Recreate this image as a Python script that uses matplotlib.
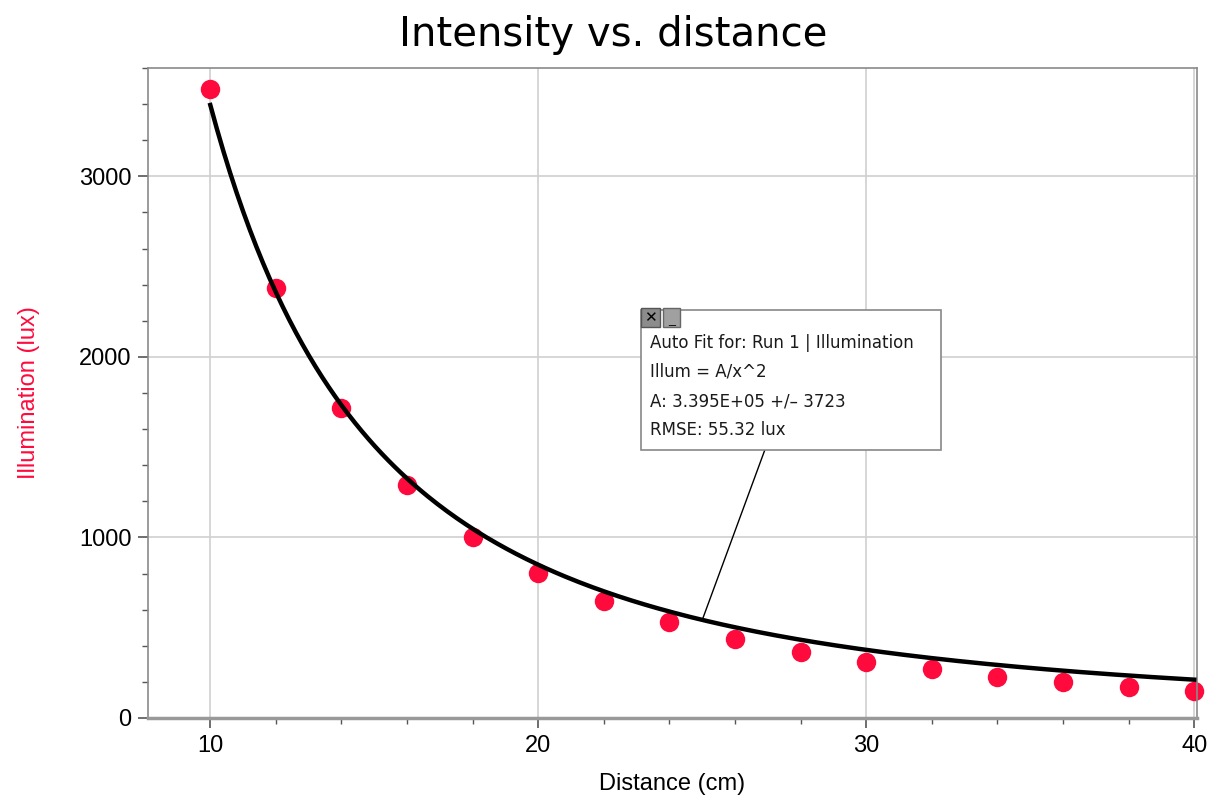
import matplotlib.pyplot as plt
from matplotlib.patches import Rectangle
from matplotlib.ticker import MultipleLocator
import numpy as np

distance = [10, 12, 14, 16, 18, 20, 22, 24, 26, 28, 30, 32, 34, 36, 38, 40]
illum = [3486, 2380, 1715, 1289, 1002, 802, 647, 531, 437, 365, 310, 271, 227, 199, 172, 149]

# fit result
A = 3.395e5
fit_lines = ['Auto Fit for: Run 1 | Illumination',
             'Illum = A/x^2',
             'A: 3.395E+05 +/\u2013 3723',
             'RMSE: 55.32 lux']

RED = '#ff0a3c'
GRAY = '#8a8a8a'

plt.rcParams['font.family'] = ['Liberation Sans', 'DejaVu Sans']

fig = plt.figure(figsize=(12.14, 7.99), dpi=100)
ax = fig.add_axes([0.1219, 0.1014, 0.864, 0.8135])

ax.set_xlim(8.1, 40.08)
ax.set_ylim(0, 3600)
ax.xaxis.set_major_locator(MultipleLocator(10))
ax.xaxis.set_minor_locator(MultipleLocator(2))
ax.yaxis.set_major_locator(MultipleLocator(1000))
ax.yaxis.set_minor_locator(MultipleLocator(200))
ax.grid(which='major', color='#d0d0d0', linewidth=1.2)
ax.set_axisbelow(True)

for side in ['top', 'right', 'left']:
    ax.spines[side].set_color(GRAY)
    ax.spines[side].set_linewidth(1.2)
ax.spines['bottom'].set_color('#999999')
ax.spines['bottom'].set_linewidth(2.5)
ax.tick_params(which='major', length=7, width=1.2, color='#555555', labelsize=17, pad=5)
ax.tick_params(which='minor', length=4, width=1.0, color='#555555')

# fit curve
xf = np.linspace(distance[0], distance[-1], 300)
ax.plot(xf, A / xf**2, color='black', linewidth=3.2, zorder=3)
ax.plot(distance, illum, 'o', color=RED, markersize=14, markeredgewidth=0, zorder=2, clip_on=False)

fig.suptitle('Intensity vs. distance', fontsize=29, family='DejaVu Sans',
             x=0.505, y=0.956, va='center')
ax.set_xlabel('Distance (cm)', fontsize=17, labelpad=12)
ax.set_ylabel('Illumination (lux)', fontsize=17, color=RED, labelpad=28)

# fit info box
ax.add_patch(Rectangle((0.470, 0.412), 0.286, 0.216, transform=ax.transAxes,
                       facecolor='white', edgecolor='#888888', linewidth=1.2, zorder=5))
ax.add_patch(Rectangle((0.470, 0.6015), 0.018, 0.0295, transform=ax.transAxes,
                       facecolor='#8c8c8c', edgecolor='#555555', linewidth=1, zorder=6))
ax.add_patch(Rectangle((0.491, 0.6015), 0.016, 0.0295, transform=ax.transAxes,
                       facecolor='#a0a0a0', edgecolor='#666666', linewidth=1, zorder=6))
ax.text(0.479, 0.6165, '\u2715', transform=ax.transAxes, ha='center', va='center',
        fontsize=11, family='DejaVu Sans', color='black', zorder=7)
ax.text(0.499, 0.6125, '_', transform=ax.transAxes, ha='center', va='center',
        fontsize=9, color='black', zorder=7)
for i, line in enumerate(fit_lines):
    ax.text(0.4785, 0.577 - i * 0.0447, line, transform=ax.transAxes, ha='left', va='center',
            fontsize=12, family='DejaVu Sans', color='#1a1a1a', zorder=7)
ax.annotate('', xy=(25, A / 25**2), xycoords='data', xytext=(0.588, 0.412),
            textcoords='axes fraction',
            arrowprops=dict(arrowstyle='-', color='black', linewidth=1, shrinkA=0, shrinkB=0),
            zorder=4)

fig.savefig('out.png', dpi=100)
